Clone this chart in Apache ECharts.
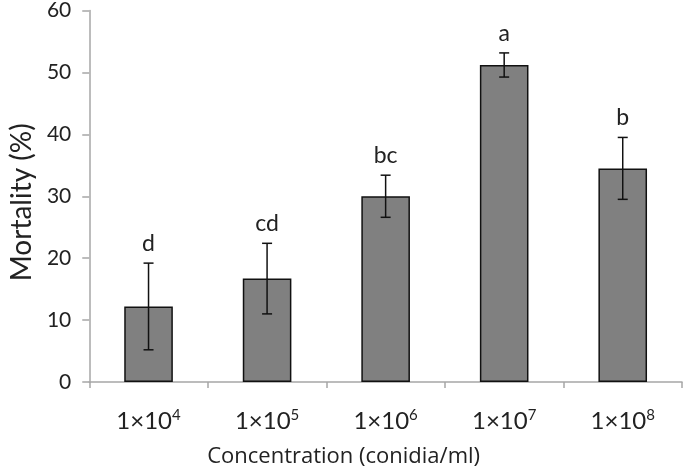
<!DOCTYPE html>
<html><head><meta charset="utf-8">
<script src="https://cdn.jsdelivr.net/npm/echarts@6/dist/echarts.min.js"></script>
<style>html,body{margin:0;padding:0;background:#fff}#c{width:685px;height:473px}</style>
</head><body><div id="c"></div>
<script>
const categories = ['4', '5', '6', '7', '8'];
const mortality = [12.2, 16.7, 30.0, 51.2, 34.5];
const errors = [7.0, 5.7, 3.4, 1.95, 5.0];
const letters = ['d', 'cd', 'bc', 'a', 'b'];
const yTicks = { min: 0, max: 60, interval: 10 };

const FONT = 'Lato, "Open Sans", sans-serif';
const chart = echarts.init(document.getElementById('c'));
chart.setOption({
  animation: false,
  grid: { left: 81, right: 3, top: 9, bottom: 90, containLabel: false },
  xAxis: {
    type: 'category', data: categories,
    name: 'Concentration (conidia/ml)', nameLocation: 'middle', nameGap: 64,
    nameTextStyle: { fontFamily: '"Open Sans", sans-serif', fontSize: 22, color: '#222', padding: [0, 84, 0, 0] },
    axisLine: { lineStyle: { color: '#a6a6a6', width: 1.5 } },
    axisTick: { show: true, alignWithLabel: false, length: 6, lineStyle: { color: '#a6a6a6', width: 1.5 } },
    axisLabel: {
      interval: 0,
      margin: 26,
      formatter: v => '1×10{sup|' + v + '}',
      rich: {
        sup: { fontFamily: FONT, fontSize: 15, color: '#222', verticalAlign: 'top', padding: [0, 0, 12, 0] }
      },
      fontFamily: FONT, fontSize: 24, color: '#222'
    }
  },
  yAxis: {
    type: 'value', min: yTicks.min, max: yTicks.max, interval: yTicks.interval,
    name: 'Mortality (%)', nameLocation: 'middle', nameGap: 48,
    nameTextStyle: { fontFamily: FONT, fontSize: 28, color: '#222', padding: [0, 12, 0, 0] },
    axisLine: { show: true, lineStyle: { color: '#a6a6a6', width: 1.5 } },
    axisTick: { show: true, length: 7, lineStyle: { color: '#a6a6a6', width: 1.5 } },
    splitLine: { show: false },
    axisLabel: { margin: 18, fontFamily: FONT, fontSize: 21, color: '#222' }
  },
  series: [
    {
      type: 'bar', data: mortality, barWidth: '41%',
      itemStyle: { color: '#808080', borderColor: '#111', borderWidth: 1.5 }
    },
    {
      type: 'custom', z: 5,
      data: mortality.map((m, i) => [i, m - errors[i], m + errors[i], letters[i]]),
      renderItem: function (params, api) {
        const x = api.coord([api.value(0), 0])[0];
        const lo = api.coord([api.value(0), api.value(1)])[1];
        const hi = api.coord([api.value(0), api.value(2)])[1];
        const w = 5;
        const st = { stroke: '#111', lineWidth: 1.5 };
        return {
          type: 'group', children: [
            { type: 'line', shape: { x1: x, y1: lo, x2: x, y2: hi }, style: st },
            { type: 'line', shape: { x1: x - w, y1: lo, x2: x + w, y2: lo }, style: st },
            { type: 'line', shape: { x1: x - w, y1: hi, x2: x + w, y2: hi }, style: st },
            { type: 'text', x: x, y: hi - 8, style: { text: api.value(3), fontFamily: FONT, fontSize: 23, fill: '#222', align: 'center', verticalAlign: 'bottom' } }
          ]
        };
      }
    }
  ]
});
</script></body></html>
